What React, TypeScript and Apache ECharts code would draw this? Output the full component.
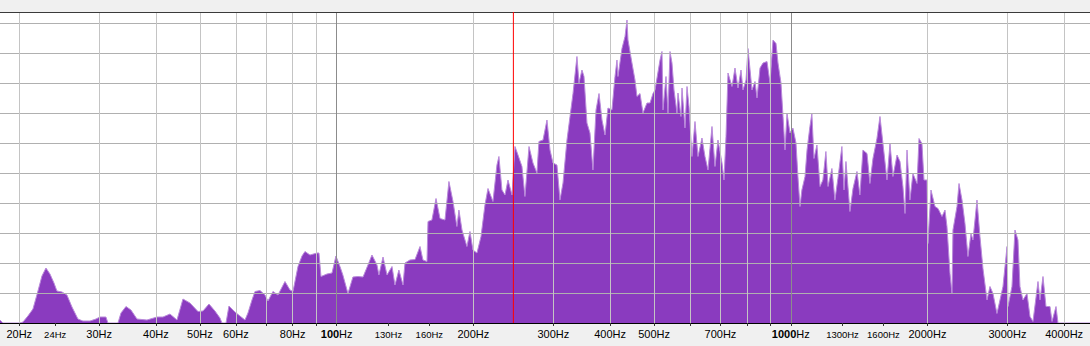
import React, { useEffect, useRef } from "react";
import * as echarts from "echarts";

// Spectrum samples (frequency in Hz, level in dB)
const freqHz = [
  18.14, 18.41, 20.07, 20.38, 20.9, 21.44, 21.99, 22.44, 22.9, 23.37, 23.85, 24.21, 24.84, 25.47, 26.13, 26.93,
  27.62, 28.63, 29.51, 30.11, 31.04, 31.36, 32.99, 33.5, 34.36, 35.24, 36.33, 38.22, 40.21, 41.45, 42.95, 44.5,
  45.87, 47.53, 49.5, 50.77, 52.34, 53.95, 55.34, 55.91, 57.05, 57.92, 59.71, 61.25, 62.82, 63.78, 65.09, 66.09,
  67.79, 69.53, 70.59, 72.4, 74.26, 76.95, 78.93, 80.13, 82.19, 83.88, 85.16, 87.35, 90.5, 91.43, 92.36, 95.21,
  97.66, 99.64, 101.7, 103.2, 105.9, 108.6, 111.4, 114.3, 117.2, 119.6, 122.7, 123.9, 126.5, 129.1, 132.4, 134.4,
  137.1, 140.0, 141.4, 145.0, 148.8, 152.6, 154.9, 158.1, 158.9, 162.1, 165.5, 168.9, 173.2, 176.7, 180.4, 184.0,
  185.9, 188.8, 193.6, 196.6, 199.6, 203.7, 207.9, 212.1, 215.4, 220.9, 225.4, 227.7, 231.2, 234.8, 238.4, 243.3,
  247.0, 250.8, 255.9, 259.8, 265.2, 270.6, 276.1, 278.9, 284.7, 290.5, 295.0, 299.5, 305.6, 310.3, 315.1, 321.5,
  326.5, 331.5, 338.2, 341.7, 346.9, 350.5, 355.8, 361.3, 366.8, 372.5, 378.2, 384.0, 389.9, 395.8, 403.9, 410.1,
  414.3, 416.4, 424.9, 431.5, 435.9, 438.1, 447.0, 453.9, 458.5, 465.6, 472.7, 482.4, 489.8, 497.3, 502.4, 515.3,
  520.5, 523.2, 531.2, 536.6, 542.1, 547.6, 553.2, 561.6, 564.5, 573.1, 576.1, 584.9, 590.9, 596.9, 606.0, 615.3,
  624.8, 637.5, 647.3, 657.3, 670.7, 681.0, 691.4, 705.6, 712.8, 720.1, 727.4, 742.3, 753.7, 765.3, 777.0, 784.9,
  797.0, 805.1, 821.5, 834.2, 842.7, 855.6, 868.7, 886.5, 900.1, 913.9, 927.9, 937.4, 951.7, 961.5, 971.3, 981.1,
  996.2, 1011, 1027, 1037, 1048, 1058, 1075, 1086, 1102, 1113, 1125, 1142, 1160, 1177, 1195, 1208,
  1232, 1251, 1270, 1296, 1310, 1323, 1350, 1371, 1399, 1420, 1442, 1472, 1494, 1517, 1548, 1572,
  1596, 1629, 1654, 1679, 1714, 1740, 1766, 1785, 1803, 1830, 1858, 1897, 1916, 1945, 1965, 1995,
  2005, 2036, 2078, 2110, 2153, 2186, 2208, 2242, 2265, 2276, 2323, 2347, 2383, 2419, 2456, 2494,
  2519, 2571, 2610, 2650, 2705, 2746, 2788, 2845, 2889, 2933, 2994, 3009, 3070, 3117, 3165, 3197,
  3246, 3313, 3364, 3415, 3503, 3539, 3593, 3648, 3723, 3761, 3838, 3877, 4560,
];

const levelDb = [
  -65.4, -66, -66, -65.8, -64.6, -63.2, -59.6, -56.6, -55.0, -56.2, -58.0, -59.6, -59.8, -60.4, -62.8, -65.2,
  -65.6, -65.6, -65.2, -64.8, -64.8, -66, -66, -64.0, -62.7, -63.4, -65.2, -65.4, -64.8, -64.8, -64.2, -65.4,
  -61.2, -62.0, -63.7, -63.6, -62.2, -63.6, -65.0, -66, -66, -62.6, -63.8, -64.6, -65.4, -64.0, -61.4, -59.7,
  -59.5, -60.4, -61.6, -59.7, -60.4, -57.7, -59.4, -59.7, -54.7, -52.6, -51.7, -52.4, -52.0, -52.0, -56.7, -56.2,
  -56.0, -52.6, -54.7, -56.4, -60.1, -56.8, -56.7, -56.8, -54.4, -52.4, -54.4, -56.4, -52.8, -56.4, -54.7, -58.4,
  -55.4, -58.4, -54.0, -53.4, -53.3, -50.7, -53.4, -53.7, -45.7, -45.4, -41.1, -45.1, -45.4, -37.7, -41.7, -46.7,
  -43.4, -47.4, -50.7, -47.7, -51.4, -52.0, -48.7, -42.4, -39.1, -41.7, -34.4, -32.7, -39.4, -40.4, -37.4, -40.4,
  -30.7, -32.4, -34.7, -40.7, -30.7, -34.0, -36.0, -29.7, -29.4, -25.4, -31.4, -34.0, -34.4, -41.4, -38.0, -29.4,
  -24.7, -20.1, -12.7, -18.0, -15.4, -16.7, -26.0, -28.0, -35.4, -23.4, -20.1, -25.4, -28.4, -23.0, -23.4, -16.7,
  -13.4, -16.7, -11.1, -8.7, -5.4, -9.4, -14.0, -17.4, -20.7, -20.1, -24.0, -22.0, -22.0, -20.1, -19.4, -13.4,
  -11.7, -23.4, -16.7, -24.0, -11.7, -14.0, -19.4, -24.0, -20.0, -24.7, -19.0, -27.0, -18.7, -22.7, -32.7, -25.7,
  -32.7, -29.0, -32.7, -35.4, -26.7, -34.7, -29.4, -34.0, -37.4, -28.7, -16.0, -18.7, -15.0, -19.0, -15.4, -19.4,
  -17.4, -11.1, -19.4, -17.7, -21.0, -15.0, -14.0, -13.7, -18.0, -9.4, -10.1, -14.0, -18.0, -24.7, -31.4, -24.0,
  -28.0, -27.0, -30.0, -36.7, -42.7, -39.4, -36.7, -31.4, -26.7, -24.1, -33.1, -30.4, -38.7, -37.4, -31.7, -38.7,
  -35.1, -41.4, -37.1, -30.7, -39.4, -33.7, -43.7, -39.1, -35.7, -40.4, -31.4, -32.1, -38.1, -33.1, -29.1, -24.7,
  -30.1, -37.4, -30.1, -36.7, -32.4, -33.7, -38.7, -44.1, -31.4, -41.4, -36.1, -38.1, -29.1, -30.1, -37.4, -37.4,
  -50.1, -39.4, -42.7, -43.1, -44.7, -43.4, -46.7, -56.1, -60.1, -47.4, -42.7, -38.1, -41.4, -46.1, -52.7, -48.1,
  -49.4, -41.4, -48.7, -55.1, -61.4, -58.7, -60.1, -64.1, -61.4, -58.7, -50.7, -62.7, -58.7, -47.4, -49.4, -58.7,
  -61.4, -60.1, -64.7, -65.7, -57.7, -61.4, -56.7, -62.7, -62.7, -65.7, -62.7, -66, -66,
];

const tickHz = [20, 24, 30, 40, 50, 60, 70, 80, 90, 100, 130, 160, 200, 300, 400, 500, 600, 700, 800, 900, 1000, 1300, 1600, 2000, 3000, 4000];
const labelHz = [20, 24, 30, 40, 50, 60, 80, 100, 130, 160, 200, 300, 400, 500, 700, 1000, 1300, 1600, 2000, 3000, 4000];
const minorLabelHz = [24, 130, 160, 1300, 1600];
const boldLabelHz = [100, 1000];
const gridHz = [20, 30, 40, 50, 60, 70, 80, 90, 200, 300, 400, 500, 600, 700, 800, 900, 2000, 3000, 4000];
const decadeHz = [100, 1000];
const cursorHz = 245;
const dbMin = -66;
const dbMax = -3.8;

const X_MIN = 18.14;
const X_MAX = 4560;

export default function App() {
  const ref = useRef<HTMLDivElement>(null);
  useEffect(() => {
    if (!ref.current) return;
    const chart = echarts.init(ref.current, undefined, { renderer: "svg" });
    const data = freqHz.map((f, i) => [f, levelDb[i]]);
    const baseX = {
      type: "log" as const,
      logBase: 10,
      min: X_MIN,
      max: X_MAX,
      gridIndex: 0,
    };
    chart.setOption({
      animation: false,
      backgroundColor: "#f0f0f0",
      grid: {
        left: 0,
        right: 0,
        top: 12,
        bottom: 23,
        show: true,
        backgroundColor: "#ffffff",
        borderWidth: 0,
      },
      xAxis: [
        {
          ...baseX,
          position: "bottom",
          z: 4,
          axisLine: { show: true, onZero: false, lineStyle: { color: "#000000", width: 1 } },
          axisTick: {
            show: true,
            inside: false,
            length: 3,
            customValues: tickHz,
            lineStyle: { color: "#333333", width: 1 },
          },
          axisLabel: {
            show: true,
            customValues: labelHz,
            margin: 4,
            color: "#000000",
            fontFamily: "Liberation Sans",
            formatter: (v: number) => {
              const r = Math.round(v);
              if (minorLabelHz.includes(r)) return `{m|${r}Hz}`;
              if (boldLabelHz.includes(r)) return `{b|${r}}{r|Hz}`;
              return `{r|${r}Hz}`;
            },
            rich: {
              r: { fontSize: 11, lineHeight: 14, fontFamily: "Liberation Sans", color: "#000" },
              b: { fontSize: 11, lineHeight: 14, fontWeight: "bold", fontFamily: "Liberation Sans", color: "#000" },
              m: { fontSize: 9.5, lineHeight: 14, fontFamily: "Liberation Sans", color: "#000" },
            },
          },
          splitLine: { show: false },
        },
        {
          ...baseX,
          position: "bottom",
          z: 3,
          axisLine: { show: false },
          axisTick: { show: false, customValues: gridHz },
          axisLabel: { show: false },
          splitLine: { show: true, lineStyle: { color: "#c4c4c4", width: 1 } },
        },
        {
          ...baseX,
          position: "top",
          z: 3,
          axisLine: { show: true, onZero: false, lineStyle: { color: "#3a3a3a", width: 1 } },
          axisTick: { show: false, customValues: decadeHz },
          axisLabel: { show: false },
          splitLine: { show: true, lineStyle: { color: "#8c8c8c", width: 1 } },
        },
      ],
      yAxis: {
        type: "value",
        min: dbMin,
        max: dbMax,
        interval: 6,
        z: 3,
        axisLine: { show: false },
        axisTick: { show: false },
        axisLabel: { show: false },
        splitLine: { show: true, lineStyle: { color: "#b0b0b0", width: 1 } },
      },
      series: [
        {
          type: "line",
          xAxisIndex: 0,
          data,
          z: 1,
          symbol: "none",
          smooth: false,
          clip: true,
          lineStyle: { color: "#b98ada", width: 1 },
          areaStyle: { color: "#8a3bbf", opacity: 1, origin: "start" },
        },
        {
          type: "line",
          name: "cursor",
          xAxisIndex: 0,
          z: 5,
          symbol: "none",
          silent: true,
          data: [
            [cursorHz, dbMin],
            [cursorHz, dbMax],
          ],
          lineStyle: { color: "#ff0000", width: 1, type: "solid" },
          itemStyle: { color: "#ff0000" },
        },
      ],
    });
    return () => chart.dispose();
  }, []);
  return (
    <div
      ref={ref}
      style={{ position: "fixed", left: 0, top: 0, width: 1090, height: 346 }}
    />
  );
}
